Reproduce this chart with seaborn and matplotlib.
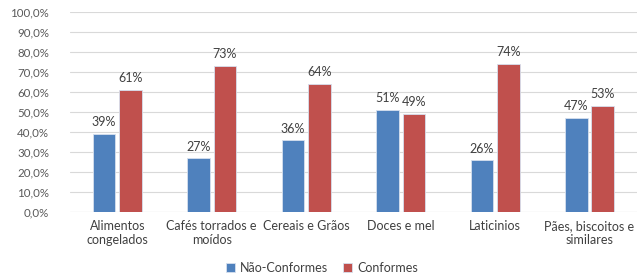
import matplotlib
matplotlib.use("Agg")
import matplotlib.pyplot as plt
import pandas as pd
import seaborn as sns
from matplotlib.ticker import FuncFormatter

categorias = ["Alimentos\ncongelados", "Cafés torrados e\nmoídos", "Cereais e Grãos",
              "Doces e mel", "Laticinios", "Pães, biscoitos e\nsimilares"]
nao_conformes = [39, 27, 36, 51, 26, 47]
conformes = [61, 73, 64, 49, 74, 53]
series = ["Não-Conformes", "Conformes"]
cores = ["#4F81BD", "#C0504D"]

df = pd.DataFrame({
    "categoria": categorias * 2,
    "valor": nao_conformes + conformes,
    "serie": [series[0]] * len(categorias) + [series[1]] * len(categorias),
})

sns.set_style("white")
plt.rcParams["font.family"] = ["Lato", "DejaVu Sans"]

fig = plt.figure(figsize=(6.44, 2.78), dpi=100)
ax = fig.add_axes([0.1087, 0.237, 0.880, 0.72])

sns.barplot(data=df, x="categoria", y="valor", hue="serie", palette=cores,
            saturation=1, width=0.56, gap=0.15, edgecolor="#D6E0EE", linewidth=0.6,
            ax=ax, legend=True)

for cont in ax.containers:
    ax.bar_label(cont, labels=[f"{v:.0f}%" for v in cont.datavalues],
                 padding=4, fontsize=9, color="#404040")

ax.set_ylim(0, 100)
ax.set_yticks(range(0, 101, 10))
ax.yaxis.set_major_formatter(FuncFormatter(lambda v, p: f"{v:.1f}%".replace(".", ",")))
ax.set_xlim(-0.5, len(categorias) - 0.5)
ax.grid(axis="y", color="#D9D9D9", linewidth=0.8)
ax.set_axisbelow(True)
for s in ax.spines.values():
    s.set_visible(False)
ax.axhline(0, color="#D9D9D9", linewidth=0.8, zorder=0)
ax.tick_params(axis="y", labelsize=8.3, labelcolor="#595959", length=0, pad=15)
ax.tick_params(axis="x", labelsize=9, labelcolor="#404040", length=0, pad=6)
ax.set_xlabel("")
ax.set_ylabel("")

handles, labels = ax.get_legend_handles_labels()
ax.get_legend().remove()
fig.legend(handles, labels, loc="lower center", bbox_to_anchor=(0.5, -0.025), ncol=2,
           frameon=False, fontsize=9, handlelength=0.7, handleheight=0.7,
           handletextpad=0.4, columnspacing=1.2, labelcolor="#404040")

fig.savefig("out.png", dpi=100)
